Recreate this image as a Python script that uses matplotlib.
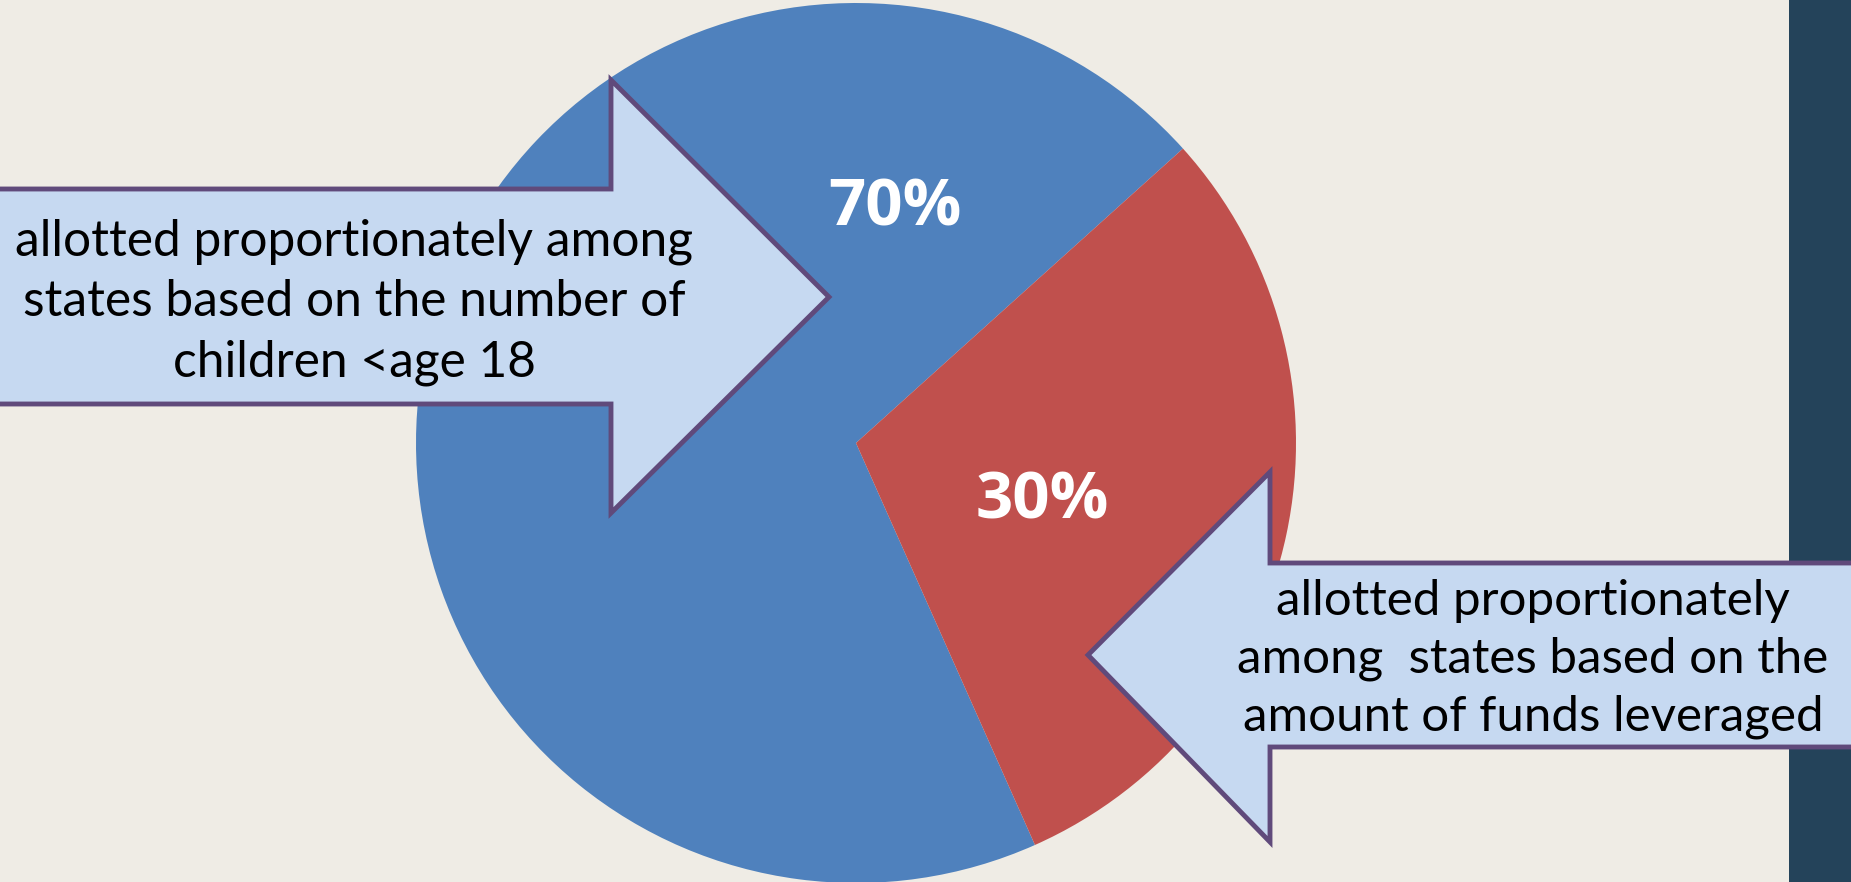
import matplotlib
matplotlib.use("Agg")
import matplotlib.pyplot as plt
from matplotlib.patches import Polygon, Rectangle

categories = ["children under 18", "funds leveraged"]
values = [70, 30]
labels = ["70%", "30%"]
colors = ["#4F81BD", "#C0504D"]
left_text = "allotted proportionately among\nstates based on the number of\nchildren <age 18"
right_text = "allotted proportionately\namong  states based on the\namount of funds leveraged"

W, H = 1851, 882
fig = plt.figure(figsize=(W / 100, H / 100), dpi=100)
fig.patch.set_facecolor("#EFECE5")
ax = fig.add_axes([0, 0, 1, 1])

def Y(y):
    return H - y

# dark side bar
ax.add_patch(Rectangle((1789, 0), W - 1789, H, facecolor="#24435A", edgecolor="none", zorder=1))

cx, cy, r = 856, Y(443), 440
ax.pie(values, colors=colors, startangle=42, counterclock=True, center=(cx, cy), radius=r,
       wedgeprops=dict(edgecolor="none"), frame=True)
ax.set_xlim(0, W)
ax.set_ylim(0, H)
ax.set_aspect("equal")
ax.axis("off")

ax.text(895, Y(209), labels[0], color="white", fontsize=47, fontweight="bold",
        family="Open Sans", ha="center", va="center", zorder=5)
ax.text(1042, Y(502), labels[1], color="white", fontsize=47, fontweight="bold",
        family="Open Sans", ha="center", va="center", zorder=5)

fill = "#C6D9F1"
edge = "#604A7B"
# left arrow (pointing right)
left_pts = [(-10, 189), (611, 189), (611, 80), (829, 297), (611, 513), (611, 404), (-10, 404)]
ax.add_patch(Polygon([(x, Y(y)) for x, y in left_pts], closed=True, facecolor=fill,
                     edgecolor=edge, linewidth=3.5, joinstyle="miter", zorder=6))
# right arrow (pointing left)
right_pts = [(W + 10, 563), (1270, 563), (1270, 472), (1088, 655), (1270, 842), (1270, 747), (W + 10, 747)]
ax.add_patch(Polygon([(x, Y(y)) for x, y in right_pts], closed=True, facecolor=fill,
                     edgecolor=edge, linewidth=3.5, joinstyle="miter", zorder=6))

ax.text(354, Y(302), left_text, fontsize=35.7, family="Lato", ha="center", va="center",
        linespacing=1.38, color="black", zorder=7)
ax.text(1533, Y(659), right_text, fontsize=35.5, family="Lato", ha="center", va="center",
        linespacing=1.38, color="black", zorder=7)

fig.savefig("out.png", dpi=100, facecolor=fig.get_facecolor())
